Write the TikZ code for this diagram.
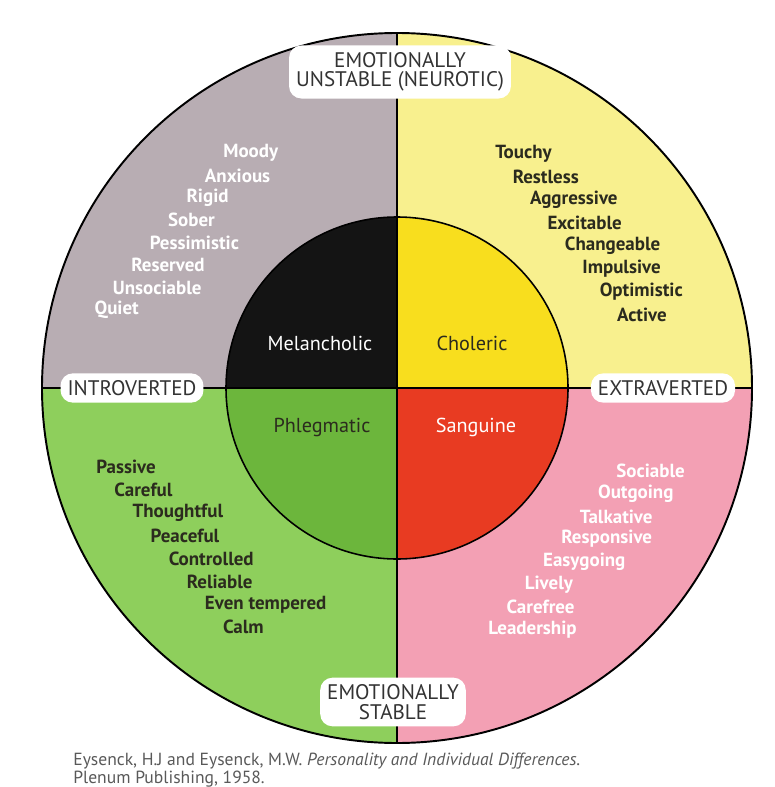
\documentclass[tikz,border=0pt]{standalone}
\usepackage{fontspec}
\setmainfont{PT Sans}
\definecolor{greyq}{HTML}{B8ADB3}
\definecolor{yellowq}{HTML}{F8F08E}
\definecolor{greenq}{HTML}{8ECF5C}
\definecolor{pinkq}{HTML}{F3A0B4}
\definecolor{melfill}{HTML}{141414}
\definecolor{cholfill}{HTML}{F8DE1E}
\definecolor{phlfill}{HTML}{6CB63C}
\definecolor{sangfill}{HTML}{E83B22}
\definecolor{darktext}{HTML}{2B2B1E}
\tikzset{
  trait/.style={anchor=west,inner sep=0pt,font=\fontsize{10.8}{13}\selectfont\bfseries},
  temper/.style={inner sep=0pt,font=\fontsize{11.5}{13}\selectfont},
  axislabel/.style={fill=white,rounded corners=7pt,inner sep=4pt,align=center,
    text=black!80,font=\fontsize{12}{11}\selectfont},
  source/.style={anchor=north west,inner sep=0pt,align=left,text=black!65,
    font=\fontsize{10}{8.6}\selectfont}
}
\begin{document}
\begin{tikzpicture}[x=0.02cm,y=-0.02cm]
\def\cx{397}%centro x
\def\cy{388}%centro y
\def\R{355}%radio circulo exterior
\def\r{171}%radio circulo interior
\useasboundingbox (0,0) rectangle (774,787);

%Cuadrantes exteriores
\begin{scope}
\clip (\cx,\cy) circle (\R);
\fill[greyq] (\cx-\R,\cy-\R) rectangle (\cx,\cy);
\fill[yellowq] (\cx,\cy-\R) rectangle (\cx+\R,\cy);
\fill[greenq] (\cx-\R,\cy) rectangle (\cx,\cy+\R);
\fill[pinkq] (\cx,\cy) rectangle (\cx+\R,\cy+\R);
\end{scope}

%Cuadrantes interiores
\begin{scope}
\clip (\cx,\cy) circle (\r);
\fill[melfill] (\cx-\r,\cy-\r) rectangle (\cx,\cy);
\fill[cholfill] (\cx,\cy-\r) rectangle (\cx+\r,\cy);
\fill[phlfill] (\cx-\r,\cy) rectangle (\cx,\cy+\r);
\fill[sangfill] (\cx,\cy) rectangle (\cx+\r,\cy+\r);
\end{scope}

\draw[line width=1.1pt] (\cx,\cy) circle (\R);
\draw[line width=0.9pt] (\cx,\cy) circle (\r);

%Ejes
\coordinate (N) at (\cx,\cy-\R);
\coordinate (S) at (\cx,\cy+\R);
\coordinate (W) at (\cx-\R,\cy);
\coordinate (E) at (\cx+\R,\cy);
\draw[line width=0.9pt] (N) -- (S);
\draw[line width=0.9pt] (W) -- (E);

%Rasgos
\foreach \w [count=\i from 0] in {Moody,Anxious,Rigid,Sober,Pessimistic,Reserved,Unsociable,Quiet}{
    \node[trait,text=white] (mel\i) at (223-18.4*\i,153+22.4*\i) {\w};
}
\foreach \w [count=\i from 0] in {Touchy,Restless,Aggressive,Excitable,Changeable,Impulsive,Optimistic,Active}{
    \node[trait,text=darktext] (cho\i) at (495+17.4*\i,154+23*\i) {\w};
}
\foreach \w [count=\i from 0] in {Passive,Careful,Thoughtful,Peaceful,Controlled,Reliable,Even tempered,Calm}{
    \node[trait,text=darktext] (phl\i) at (96+18.1*\i,467+22.9*\i) {\w};
}
\foreach \w [count=\i from 0] in {Sociable,Outgoing,Talkative,Responsive,Easygoing,Lively,Carefree,Leadership}{
    \node[trait,text=white] (san\i) at (616-18.3*\i,471+22.7*\i) {\w};
}

%Temperamentos
\node[temper,text=white] (melancholic) at (320,343) {Melancholic};
\node[temper,text=darktext] (choleric) at (472,343) {Choleric};
\node[temper,text=darktext] (phlegmatic) at (322,427) {Phlegmatic};
\node[temper,text=white] (sanguine) at (476,427) {Sanguine};

%Etiquetas de ejes
\node[axislabel] (unstable) at (400,72) {EMOTIONALLY\\UNSTABLE (NEUROTIC)};
\node[axislabel] (stable) at (393,702) {EMOTIONALLY\\STABLE};
\node[axislabel] (intro) at (132,388) {INTROVERTED};
\node[axislabel] (extra) at (663,388) {EXTRAVERTED};

%Fuente
\node[source] (ref) at (73,753) {Eysenck, H.J and Eysenck, M.W. \textit{Personality and Individual Differences.}\\
Plenum Publishing, 1958.};
\end{tikzpicture}
\end{document}
